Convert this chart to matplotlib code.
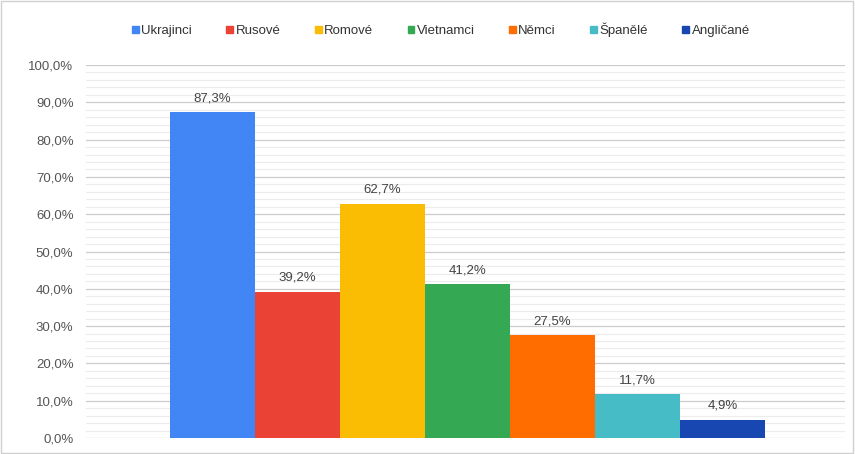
import numpy as np
import matplotlib.pyplot as plt
from matplotlib.ticker import MultipleLocator, FuncFormatter
from matplotlib.patches import Rectangle

plt.rcParams['font.family'] = ['Liberation Sans', 'DejaVu Sans']

groups = ['Ukrajinci', 'Rusové', 'Romové', 'Vietnamci', 'Němci', 'Španělé', 'Angličané']
values = [87.3, 39.2, 62.7, 41.2, 27.5, 11.7, 4.9]
colors = ['#4285F4', '#EA4335', '#FBBC04', '#34A853', '#FF6D01', '#46BDC6', '#1847B1']

fig = plt.figure(figsize=(8.55, 4.54), dpi=100)
ax = fig.add_axes([86/855, 1-438/454, (845-86)/855, (438-65)/454])

x = np.arange(len(groups))
bars = ax.bar(x, values, width=1.0, color=colors, label=groups, zorder=3)

for xi, v in zip(x, values):
    ax.text(xi, v + 2.2, f'{v:.1f}%'.replace('.', ','), ha='center', va='bottom',
            fontsize=9.5, color='#444444', zorder=4)

ax.set_xlim(-1.49, 7.44)
ax.set_ylim(0, 100)
ax.yaxis.set_major_locator(MultipleLocator(10))
ax.yaxis.set_minor_locator(MultipleLocator(2))
ax.yaxis.set_major_formatter(FuncFormatter(lambda v, p: f'{v:.1f}%'.replace('.', ',')))
ax.grid(axis='y', which='major', color='#cccccc', linewidth=0.9, zorder=0)
ax.grid(axis='y', which='minor', color='#ececec', linewidth=0.8, zorder=0)
ax.tick_params(axis='y', which='both', length=0, labelsize=9.5, labelcolor='#555555', pad=9)
ax.set_xticks([])
for s in ax.spines.values():
    s.set_visible(False)

handles = [Rectangle((0, 0), 1, 1, color=c) for c in colors]
fig.legend(handles, groups, loc='center', bbox_to_anchor=(441/855, 1-30/454), ncol=7,
           frameon=False, fontsize=9.5, handlelength=0.5, handleheight=0.5,
           handletextpad=0.2, columnspacing=2.6, labelcolor='#333333')

fig.patches.append(Rectangle((0.001, 0.002), 0.997, 0.995, transform=fig.transFigure,
                             fill=False, edgecolor='#d0d0d0', linewidth=1))

fig.savefig('out.png', dpi=100)
